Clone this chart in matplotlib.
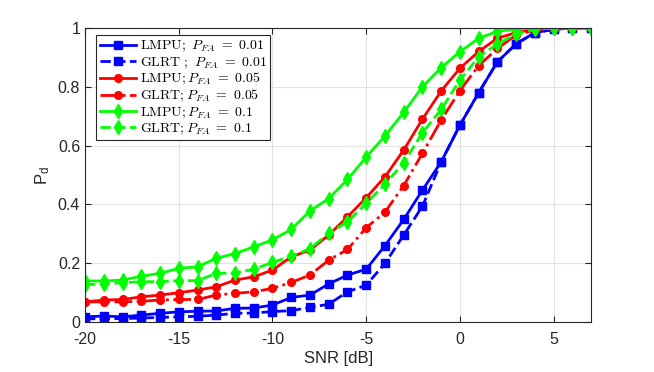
import matplotlib
matplotlib.use("Agg")
import matplotlib.pyplot as plt
import numpy as np

snr = np.arange(-20, 8)

lmpu_001 = [0.018, 0.021, 0.018, 0.024, 0.030, 0.035, 0.037, 0.038, 0.047, 0.048,
            0.058, 0.084, 0.092, 0.130, 0.160, 0.180, 0.260, 0.349, 0.449, 0.545,
            0.670, 0.780, 0.885, 0.946, 0.984, 0.995, 1.0, 1.0]
glrt_001 = [0.011, 0.012, 0.012, 0.014, 0.016, 0.018, 0.020, 0.024, 0.030, 0.031,
            0.036, 0.039, 0.050, 0.061, 0.103, 0.126, 0.200, 0.296, 0.394, 0.545,
            0.670, 0.780, 0.885, 0.946, 0.984, 0.995, 1.0, 1.0]
lmpu_005 = [0.069, 0.075, 0.077, 0.086, 0.092, 0.100, 0.109, 0.120, 0.143, 0.154,
            0.177, 0.222, 0.245, 0.296, 0.358, 0.423, 0.494, 0.585, 0.690, 0.786,
            0.863, 0.920, 0.965, 0.984, 0.995, 1.0, 1.0, 1.0]
glrt_005 = [0.069, 0.069, 0.069, 0.071, 0.075, 0.077, 0.077, 0.092, 0.098, 0.103,
            0.115, 0.135, 0.160, 0.211, 0.247, 0.321, 0.374, 0.464, 0.574, 0.687,
            0.787, 0.872, 0.930, 0.976, 0.993, 1.0, 1.0, 1.0]
lmpu_01 = [0.140, 0.140, 0.143, 0.156, 0.166, 0.183, 0.188, 0.217, 0.233, 0.256,
           0.280, 0.315, 0.378, 0.420, 0.485, 0.561, 0.633, 0.713, 0.800, 0.865,
           0.919, 0.965, 0.988, 0.997, 1.0, 1.0, 1.0, 1.0]
glrt_01 = [0.127, 0.130, 0.134, 0.137, 0.138, 0.141, 0.141, 0.166, 0.167, 0.180,
           0.203, 0.224, 0.250, 0.302, 0.341, 0.404, 0.469, 0.542, 0.644, 0.723,
           0.823, 0.902, 0.945, 0.980, 0.995, 1.0, 1.0, 1.0]

labels = [r'$\mathrm{LMPU;}\ P_{FA}\ =\ 0.01$',
          r'$\mathrm{GLRT\ ;}\ P_{FA}\ =\ 0.01$',
          r'$\mathrm{LMPU;}P_{FA}\ =\ 0.05$',
          r'$\mathrm{GLRT;}P_{FA}\ =\ 0.05$',
          r'$\mathrm{LMPU;}P_{FA}\ =\ 0.1$',
          r'$\mathrm{GLRT;}P_{FA}\ =\ 0.1$']

plt.rcParams['font.family'] = ['Liberation Sans', 'DejaVu Sans']
plt.rcParams['mathtext.fontset'] = 'cm'
plt.rcParams['axes.unicode_minus'] = False

fig = plt.figure(figsize=(6.54, 3.72), dpi=100)
ax = fig.add_axes([0.130, 0.134, 0.774, 0.791])

ax.plot(snr, lmpu_001, '-', color='b', lw=2, marker='s', ms=5.5, mfc='b', label=labels[0])
ax.plot(snr, glrt_001, '--', color='b', lw=2, marker='s', ms=5.5, mfc='b', label=labels[1])
ax.plot(snr, lmpu_005, '-', color='r', lw=2, marker='o', ms=5.5, mfc='r', label=labels[2])
ax.plot(snr, glrt_005, '-.', color='r', lw=2, marker='o', ms=5.5, mfc='r', label=labels[3])
ax.plot(snr, lmpu_01, '-', color='#00ff00', lw=2, marker='d', ms=7, mfc='#00ff00', label=labels[4])
ax.plot(snr, glrt_01, '--', color='#00ff00', lw=2, marker='d', ms=7, mfc='#00ff00', label=labels[5])

ax.set_xlim(-20, 7)
ax.set_ylim(0, 1)
ax.set_xticks([-20, -15, -10, -5, 0, 5])
ax.set_yticks([0, 0.2, 0.4, 0.6, 0.8, 1])
ax.set_yticklabels(['0', '0.2', '0.4', '0.6', '0.8', '1'])
ax.grid(True, color='#e3e3e3', lw=0.8)
ax.set_axisbelow(True)
ax.tick_params(direction='in', top=True, right=True, labelsize=11.5, colors='#262626', length=4)
ax.tick_params(axis='x', pad=7)
for s in ax.spines.values():
    s.set_color('#262626')
    s.set_linewidth(0.8)

ax.set_xlabel('SNR [dB]', fontsize=12, color='#262626', labelpad=3)
ax.set_ylabel(r'$\mathregular{P_d}$', fontsize=12, color='#262626')

leg = ax.legend(loc='upper left', bbox_to_anchor=(0.022, 0.975), fontsize=10,
                handlelength=2.6, borderpad=0.25, labelspacing=0.05, handletextpad=0.3,
                fancybox=False, framealpha=1, edgecolor='#262626', borderaxespad=0)
leg.get_frame().set_linewidth(0.8)

fig.savefig('out.png', dpi=100)
